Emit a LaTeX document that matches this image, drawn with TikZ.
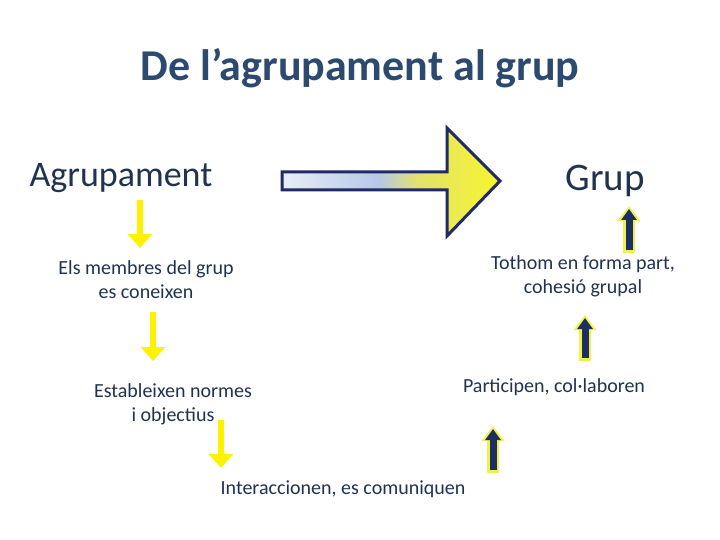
\documentclass[tikz,border=0pt]{standalone}
\usepackage{fontspec}
\setmainfont{Carlito}
\usepackage{xcolor}
\usetikzlibrary{arrows.meta}
\usetikzlibrary{positioning}

\definecolor{titleblue}{HTML}{2C4A6F}
\definecolor{textblue}{HTML}{1F3350}
\definecolor{navy}{HTML}{1C2F5E}
\definecolor{edgenavy}{HTML}{1F2A66}
\definecolor{ylw}{HTML}{FFF200}
\definecolor{glow}{HTML}{F2F050}
\definecolor{shA}{HTML}{E9EEF8}
\definecolor{shB}{HTML}{B6C7E8}
\definecolor{shC}{HTML}{E2E26E}
\definecolor{shD}{HTML}{F7F52C}
\pgfdeclarehorizontalshading{bigshade}{100bp}{color(0bp)=(shA); color(25bp)=(shA);
  color(47bp)=(shB); color(56bp)=(shC); color(75bp)=(shD); color(100bp)=(shD)}

\begin{document}
\begin{tikzpicture}[x=1pt, y=-1pt, semithick]
  \tikzstyle{txt}=[text=textblue, font=\fontsize{20}{24}\selectfont, align=center, inner sep=0pt]
  \tikzstyle{head}=[text=textblue, font=\fontsize{36}{40}\selectfont, inner sep=0pt]
  \tikzstyle{down}=[draw=ylw, line width=6pt, -{Triangle[width=24pt,length=14pt]}]
  \tikzstyle{upglow}=[draw=glow, line width=12pt, -{Triangle[width=22pt,length=15pt]}]
  \tikzstyle{up}=[draw=navy, line width=7pt, -{Triangle[width=15pt,length=11pt]}]
\useasboundingbox (0,0) rectangle (720,540);
\node[text=titleblue, font=\fontsize{44}{48}\selectfont\bfseries] (title) at (360,68) {De l’agrupament al grup};
\node[head] (agr) at (121,178) {Agrupament};
\node[head, font=\fontsize{39}{42}\selectfont] (grup) at (605,181) {Grup};
% big arrow
\draw[edgenavy, line width=3pt, line join=miter, shading=bigshade]
    (282,172) -- (447,172) -- (447,128) -- (500,181) -- (447,236) -- (447,190) -- (282,190) -- cycle;
% left column
\node[txt] (memb) at (146,280) {Els membres del grup\\es coneixen};
\node[txt] (norm) at (173,404) {Estableixen normes\\i objectius};
\node[txt] (inter) at (343,489) {Interaccionen, es comuniquen};
% right column
\node[txt] (toth) at (583,276) {Tothom en forma part,\\cohesió grupal};
\node[txt] (part) at (554,387) {Participen, col·laboren};
% arrow ends
\coordinate (d1a) at (140,200); \coordinate (d1b) at (140,248);
\coordinate (d2a) at (153,312); \coordinate (d2b) at (153,361);
\coordinate (d3a) at (221,420); \coordinate (d3b) at (221,468);
\coordinate (u1a) at (629,250); \coordinate (u1b) at (629,209);
\coordinate (u2a) at (585,358); \coordinate (u2b) at (585,318);
\coordinate (u3a) at (493,470); \coordinate (u3b) at (493,429);
\foreach \i in {1,2,3}{
    \draw[down] (d\i a) -- (d\i b);
    \draw[upglow] ([yshift=-2.5pt]u\i a) -- ([yshift=3pt]u\i b);
    \draw[up] (u\i a) -- (u\i b);
      }
   \end{tikzpicture}
\end{document}
